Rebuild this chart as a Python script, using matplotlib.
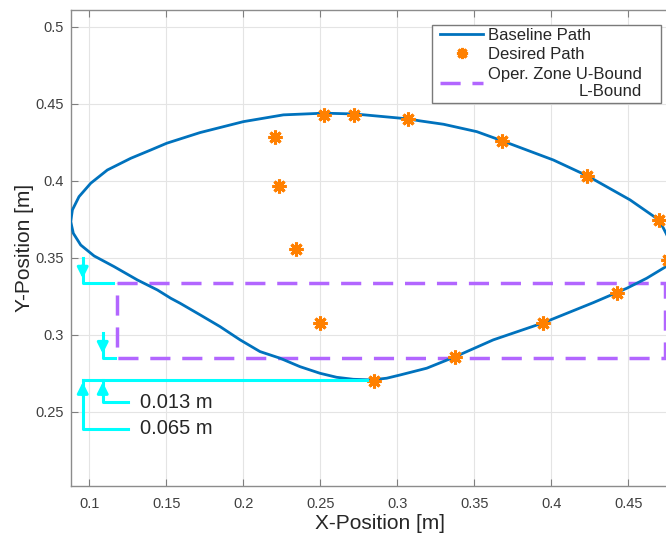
import numpy as np
import matplotlib
matplotlib.use("Agg")
import matplotlib.pyplot as plt
from matplotlib.patches import Rectangle

plt.rcParams['font.family'] = ['Liberation Sans', 'DejaVu Sans']

# baseline path (closed loop)
path_x = [0.2721, 0.2522, 0.2260, 0.2000, 0.1719, 0.1503, 0.1399, 0.1269, 0.1117,
          0.1009, 0.0933, 0.0890, 0.0879, 0.0896, 0.0944, 0.1031, 0.1160, 0.1312,
          0.1442, 0.1529, 0.1589, 0.1720, 0.1849, 0.1979, 0.2108, 0.2238, 0.2368,
          0.2498, 0.2606, 0.2714, 0.2834, 0.2931, 0.3018, 0.3191, 0.3377, 0.3623,
          0.3946, 0.4273, 0.4490, 0.4619, 0.4745, 0.4797, 0.4745, 0.4701, 0.4511,
          0.4232, 0.4013, 0.3682, 0.3516, 0.3300, 0.3147, 0.3069, 0.2721]
path_y = [0.4435, 0.4440, 0.4429, 0.4385, 0.4314, 0.4245, 0.4201, 0.4147, 0.4071,
          0.3985, 0.3898, 0.3812, 0.3736, 0.3660, 0.3584, 0.3513, 0.3444, 0.3357,
          0.3292, 0.3238, 0.3206, 0.3130, 0.3054, 0.2968, 0.2892, 0.2849, 0.2794,
          0.2751, 0.2725, 0.2712, 0.2708, 0.2719, 0.2740, 0.2784, 0.2859, 0.2968,
          0.3078, 0.3210, 0.3303, 0.3368, 0.3444, 0.3552, 0.3660, 0.3745, 0.3877,
          0.4034, 0.4136, 0.4260, 0.4320, 0.4368, 0.4390, 0.4403, 0.4435]

# desired path points
des_x = [0.2206, 0.2232, 0.2340, 0.2498, 0.2850, 0.3377, 0.3946, 0.4425, 0.4760,
         0.4701, 0.4232, 0.3682, 0.3071, 0.2721, 0.2522]
des_y = [0.4288, 0.3968, 0.3560, 0.3076, 0.2701, 0.2859, 0.3078, 0.3275, 0.3487,
         0.3745, 0.4034, 0.4260, 0.4403, 0.4427, 0.4427]

# operational zone bounds
zone_left, zone_right = 0.1178, 0.4735
zone_upper, zone_lower = 0.3336, 0.2853
path_min_y = 0.2708

W, H = 666, 534
fig = plt.figure(figsize=(W / 100, H / 100), dpi=100)
# axes in pixels: left 70.7, bottom spine 485.7, top 10; 1540 px per metre both ways
x0, x1 = 0.0879, 0.49
y0, y1 = 0.2021, 0.511
sc = 1540
ax = fig.add_axes([70.7 / W, (H - 485.7) / H, (x1 - x0) * sc / W, (y1 - y0) * sc / H])

ax.grid(True, color='#e4e4e4', linewidth=0.8)
ax.set_axisbelow(True)

ax.plot(path_x, path_y, color='#0072BD', linewidth=2.0, label='Baseline Path',
        solid_joinstyle='round', zorder=3)
ax.plot(des_x, des_y, linestyle='none', marker=(8, 2, 0), markersize=10,
        markeredgewidth=2.2, color='#FF8000', label='Desired Path', zorder=4)

zx = [zone_left, zone_right, zone_right, zone_left, zone_left]
zy = [zone_upper, zone_upper, zone_lower, zone_lower, zone_upper]
zl, = ax.plot(zx, zy, color='#B266FF', linewidth=2.5, zorder=2,
              label='Oper. Zone U-Bound\nL-Bound')
zl.set_dashes([5.8, 3.4])

# cyan annotations
cyan = '#00FFFF'
lw_c = 2.2
xa, xb = 0.0957, 0.1087
ax.plot([xa, xa, 0.1156], [0.35, 0.334, 0.334], color=cyan, lw=lw_c, zorder=5)
ax.plot([xb, xb, 0.1167], [0.3011, zone_lower, zone_lower], color=cyan, lw=lw_c, zorder=5)
ax.plot([xa, 0.2801], [path_min_y, path_min_y], color=cyan, lw=lw_c, zorder=5)
ax.plot([xa, xa, 0.1253], [path_min_y, 0.2390, 0.2390], color=cyan, lw=lw_c, zorder=5)
ax.plot([xb, xb, 0.1253], [path_min_y, 0.2563, 0.2563], color=cyan, lw=lw_c, zorder=5)

ap = dict(arrowstyle='-|>', color=cyan, lw=lw_c, mutation_scale=16, shrinkA=0, shrinkB=0)
ax.annotate('', xy=(xa, 0.3366), xytext=(xa, 0.3450), arrowprops=ap, zorder=6)
ax.annotate('', xy=(xb, 0.2878), xytext=(xb, 0.2960), arrowprops=ap, zorder=6)
ax.annotate('', xy=(xa, 0.2694), xytext=(xa, 0.2610), arrowprops=ap, zorder=6)
ax.annotate('', xy=(xb, 0.2694), xytext=(xb, 0.2610), arrowprops=ap, zorder=6)

ax.text(0.1329, 0.2563, '0.013 m', fontsize=14.5, color='#262626', va='center', ha='left')
ax.text(0.1329, 0.2390, '0.065 m', fontsize=14.5, color='#262626', va='center', ha='left')

ax.set_xticks(np.arange(0.1, 0.451, 0.05))
ax.set_xticklabels(['0.1', '0.15', '0.2', '0.25', '0.3', '0.35', '0.4', '0.45'])
ax.set_yticks(np.arange(0.25, 0.501, 0.05))
ax.set_yticklabels(['0.25', '0.3', '0.35', '0.4', '0.45', '0.5'])
ax.tick_params(direction='in', length=5, width=0.8, colors='#7f7f7f',
               labelcolor='#404040', labelsize=10.5, top=True, right=True)
ax.tick_params(axis='x', pad=8)
ax.tick_params(axis='y', pad=5)
for s in ax.spines.values():
    s.set_color('#8c8c8c')
    s.set_linewidth(1.0)

ax.set_xlabel('X-Position [m]', fontsize=15, color='#262626', labelpad=2)
ax.set_ylabel('Y-Position [m]', fontsize=15, color='#262626', labelpad=1)

leg = ax.legend(loc='upper left', bbox_to_anchor=(440 / W, 1 - 28 / H),
                bbox_transform=fig.transFigure, fontsize=12, frameon=False,
                handlelength=2.6, handletextpad=0.3, borderpad=0.0,
                labelspacing=0.26, borderaxespad=0, markerscale=0.8)
for t in leg.get_texts():
    t.set_color('#262626')
    t.set_multialignment('right')
leg.set_zorder(9)

# legend box drawn by hand (wider on the right, as in the picture)
box = Rectangle((432.3 / W, 1 - 102.7 / H), (660.7 - 432.3) / W, (102.7 - 25) / H,
                transform=fig.transFigure, facecolor='white', edgecolor='#7a7a7a',
                linewidth=1.0, zorder=8)
ax.add_artist(box)

ax.set_xlim(x0, x1)
ax.set_ylim(y0, y1)

fig.savefig('out.png', dpi=100)
